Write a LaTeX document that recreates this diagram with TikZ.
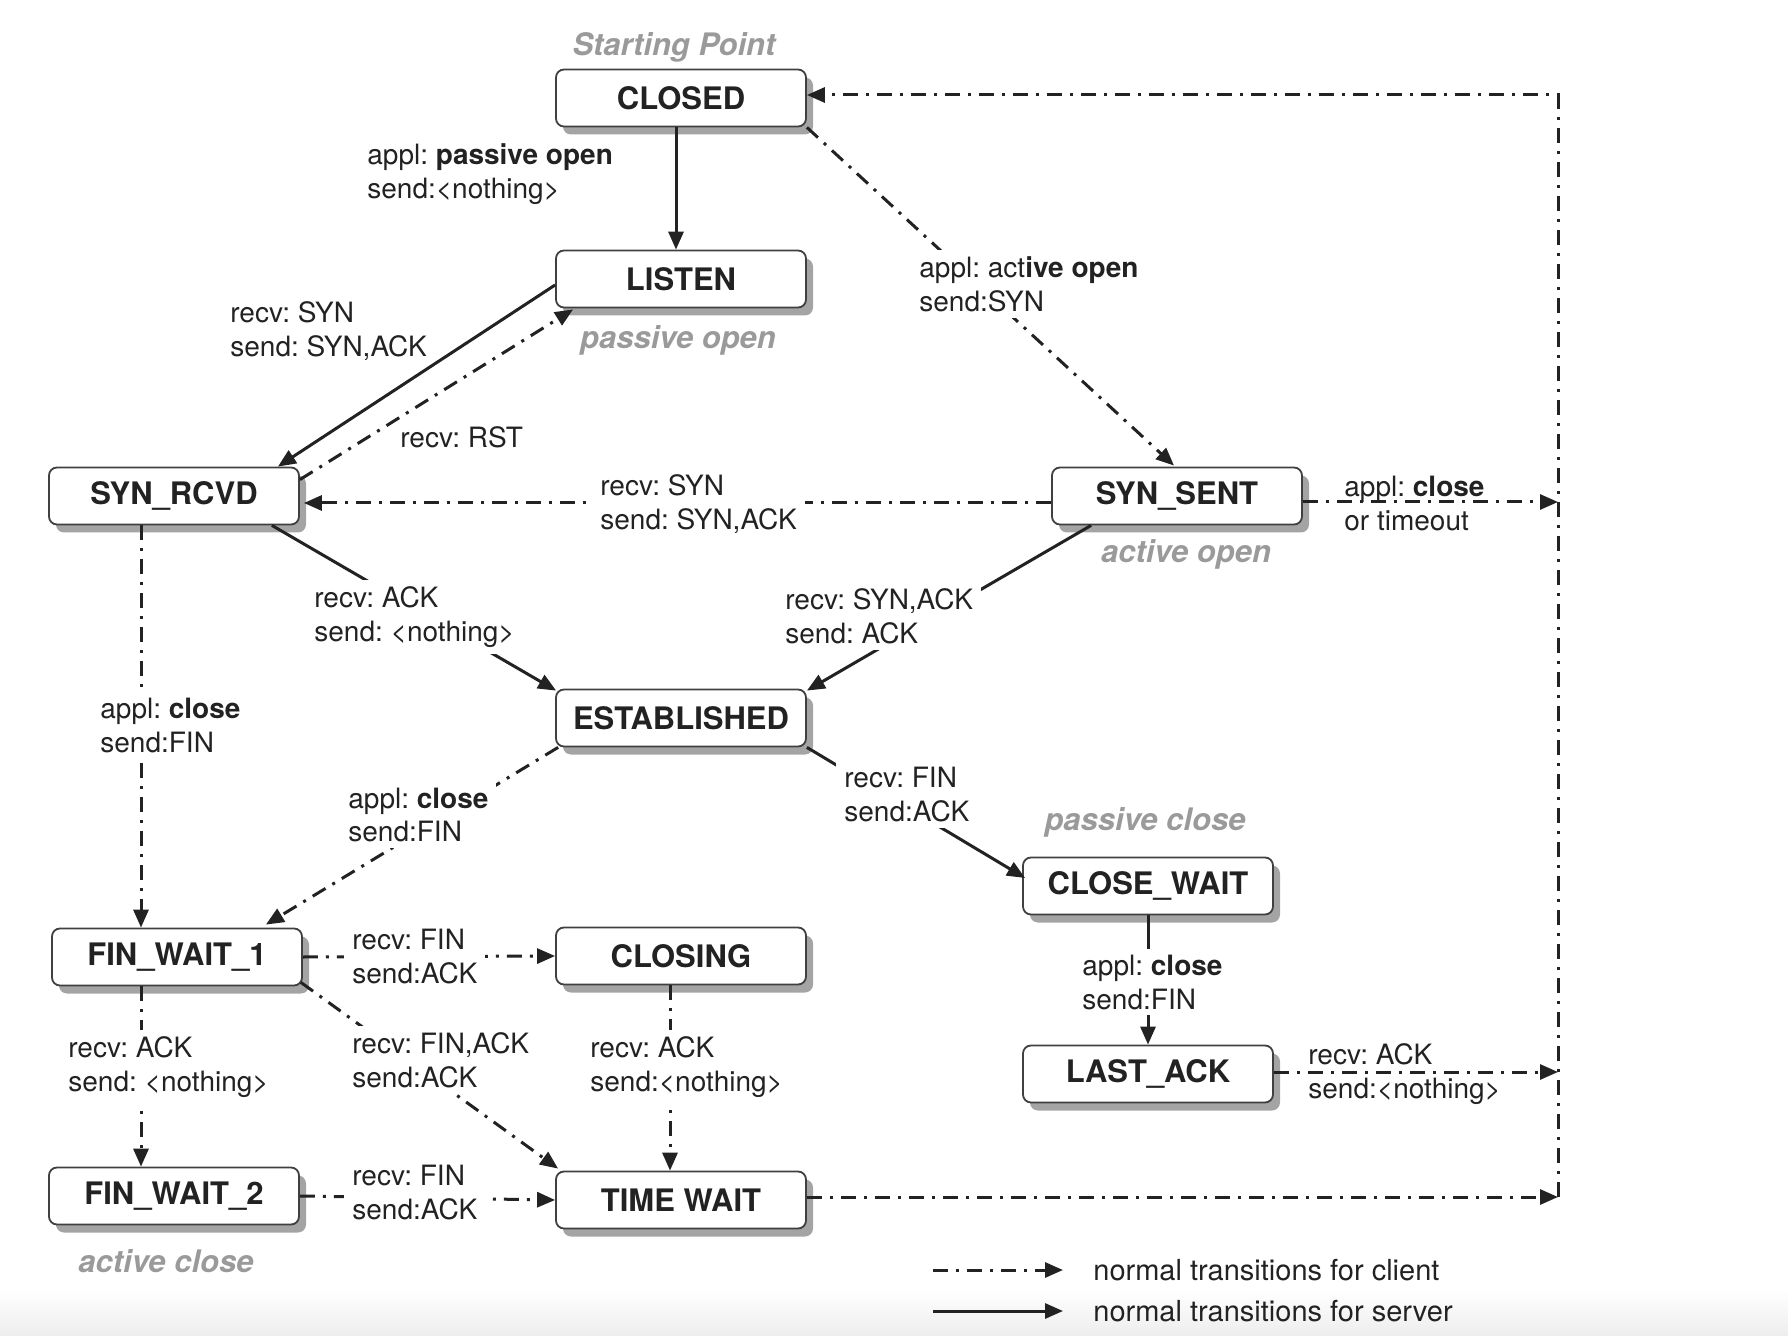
\documentclass[tikz,border=0pt]{standalone}
\usepackage{fontspec}
\setmainfont{TeX Gyre Heros}
\usetikzlibrary{arrows.meta,shadows,calc}
\definecolor{ink}{HTML}{222222}
\definecolor{shadowgray}{HTML}{A4A4A4}
\definecolor{notegray}{HTML}{9A9A9A}
\frenchspacing
\begin{document}
\begin{tikzpicture}[x=0.5pt,y=-0.5pt,
  statebox/.style={draw=black!75, line width=0.9pt, rounded corners=4pt, fill=white,
    minimum width=125pt, minimum height=28.5pt, inner sep=0pt, text=ink,
    font=\bfseries\fontsize{15.5}{18}\selectfont,
    drop shadow={shadow xshift=3.5pt, shadow yshift=-4pt, fill=shadowgray, opacity=1}},
  phase/.style={font=\bfseries\itshape\fontsize{15.5}{18}\selectfont, text=notegray, inner sep=0pt},
  lbl/.style={font=\fontsize{14}{17}\selectfont, align=left, anchor=west, text=ink, inner sep=2pt},
  wlbl/.style={lbl, fill=white, inner xsep=4pt, inner ysep=3pt},
  srv/.style={draw=ink, line width=1.5pt, -{Triangle[length=9pt,width=7.5pt]}},
  cli/.style={draw=ink, line width=1.5pt, dash pattern=on 7.5pt off 4pt on 1.5pt off 4pt,
    -{Triangle[length=9pt,width=7.5pt]}},
]
\useasboundingbox (0,0) rectangle (1788,1336);
\shade[top color=white, bottom color=black!7, draw=none] (0,1290) rectangle (1788,1336);

% states
\node[statebox] (closed)    at (681,98)   {CLOSED};
\node[statebox] (listen)    at (681,279)  {LISTEN};
\node[statebox] (synrcvd)   at (174,496)  {SYN\_RCVD};
\node[statebox] (synsent)   at (1177,496) {SYN\_SENT};
\node[statebox] (estab)     at (681,718)  {ESTABLISHED};
\node[statebox] (closewait) at (1148,886) {CLOSE\_WAIT};
\node[statebox] (lastack)   at (1148,1074){LAST\_ACK};
\node[statebox] (finwait1)  at (177,957)  {FIN\_WAIT\_1};
\node[statebox] (closing)   at (681,956)  {CLOSING};
\node[statebox] (finwait2)  at (174,1196) {FIN\_WAIT\_2};
\node[statebox] (timewait)  at (681,1200) {TIME WAIT};

% phase notes
\node[phase] (n1) at (674,47)   {Starting Point};
\node[phase] (n2) at (678,340)  {passive open};
\node[phase] (n3) at (1186,554) {active open};
\node[phase] (n4) at (1145,822) {passive close};
\node[phase] (n5) at (166,1261) {active close};

% helper coordinates
\coordinate (xC) at (676,0);
\coordinate (xL) at (141,0);
\coordinate (xM) at (670,0);
\coordinate (rT) at (1558,95);
\coordinate (rS) at (1558,502);
\coordinate (rA) at (1558,1072);
\coordinate (rB) at (1558,1197);

% connectors
\draw[srv] (xC |- closed.south) -- (xC |- listen.north);
\draw[cli] (closed.south east) -- ($(synsent.north)+(-3,-1)$);
\draw[srv] ($(listen.west)+(0,6)$) -- ($(synrcvd.north east)+(-22,0)$);
\draw[cli] ($(synrcvd.north east)+(0,13)$) -- ($(listen.south west)+(18,1)$);
\draw[cli] ($(synsent.west)+(0,7)$) -- ($(synrcvd.east)+(4,7)$);
\draw[cli] ($(synsent.east)+(0,6)$) -- (rS);
\draw[srv] ($(synrcvd.south east)+(-28,0)$) -- ($(estab.north west)+(1,2)$);
\draw[srv] ($(synsent.south west)+(40,0)$) -- ($(estab.north east)+(0,2)$);
\draw[cli] (xL |- synrcvd.south) -- (xL |- finwait1.north);
\draw[cli] ($(estab.south west)+(3,0)$) -- ($(finwait1.north east)+(-37,-3)$);
\draw[srv] (estab.south east) -- ($(closewait.west)+(3,-8)$);
\draw[srv] (closewait.south) -- (lastack.north);
\draw[cli] (lastack.east |- rA) -- (rA);
\draw[cli] (finwait1.east) -- (closing.west);
\draw[cli] ($(finwait1.south east)+(-2,-4)$) -- ($(timewait.north west)+(3,-2)$);
\draw[cli] (xM |- closing.south) -- (xM |- timewait.north);
\draw[cli] (xL |- finwait1.south) -- (xL |- finwait2.north);
\draw[cli] (finwait2.east) -- (timewait.west);
\draw[cli] (timewait.east |- rB) -- (rB);
\draw[cli] (rB) -- (rT) -- (closed.east |- rT);

% transition labels
\node[lbl]  (t1)  at (363,174)  {appl: \textbf{passive open}\\send:<nothing>};
\node[wlbl] (t2)  at (911,284)  {appl: act\textbf{ive open}\\send:SYN};
\node[lbl]  (t3)  at (226,331)  {recv: SYN\\send: SYN,ACK};
\node[lbl]  (t4)  at (396,437)  {recv: RST};
\node[wlbl] (t5)  at (592,504)  {recv: SYN\\send: SYN,ACK};
\node[lbl]  (t6)  at (1340,504) {appl: \textbf{close}\\or timeout};
\node[wlbl] (t7)  at (306,617)  {recv: ACK\\send: <nothing>};
\node[wlbl] (t8)  at (777,616)  {recv: SYN,ACK\\send: ACK};
\node[wlbl] (t9)  at (92,726)   {appl: \textbf{close}\\send:FIN};
\node[wlbl] (t10) at (340,815)  {appl: \textbf{close}\\send:FIN};
\node[wlbl] (t11) at (836,795)  {recv: FIN\\send:ACK};
\node[wlbl] (t12) at (1074,982) {appl: \textbf{close}\\send:FIN};
\node[lbl]  (t13) at (1304,1074){recv: ACK\\send:<nothing>};
\node[wlbl] (t14) at (344,957)  {recv: FIN\\send:ACK};
\node[wlbl] (t15) at (344,1060) {recv: FIN,ACK\\send:ACK};
\node[wlbl] (t16) at (582,1067) {recv: ACK\\send:<nothing>};
\node[wlbl] (t17) at (60,1067)  {recv: ACK\\send: <nothing>};
\node[wlbl] (t18) at (344,1193) {recv: FIN\\send:ACK};

% legend
\coordinate (lc1) at (933,1270);
\coordinate (lc2) at (1063,1270);
\coordinate (ls1) at (933,1311);
\coordinate (ls2) at (1063,1311);
\draw[cli] (lc1) -- (lc2);
\draw[srv] (ls1) -- (ls2);
\node[lbl, font=\fontsize{14.5}{17}\selectfont] (lgc) at (1089,1270) {normal transitions for client};
\node[lbl, font=\fontsize{14.5}{17}\selectfont] (lgs) at (1089,1311) {normal transitions for server};
\end{tikzpicture}
\end{document}
